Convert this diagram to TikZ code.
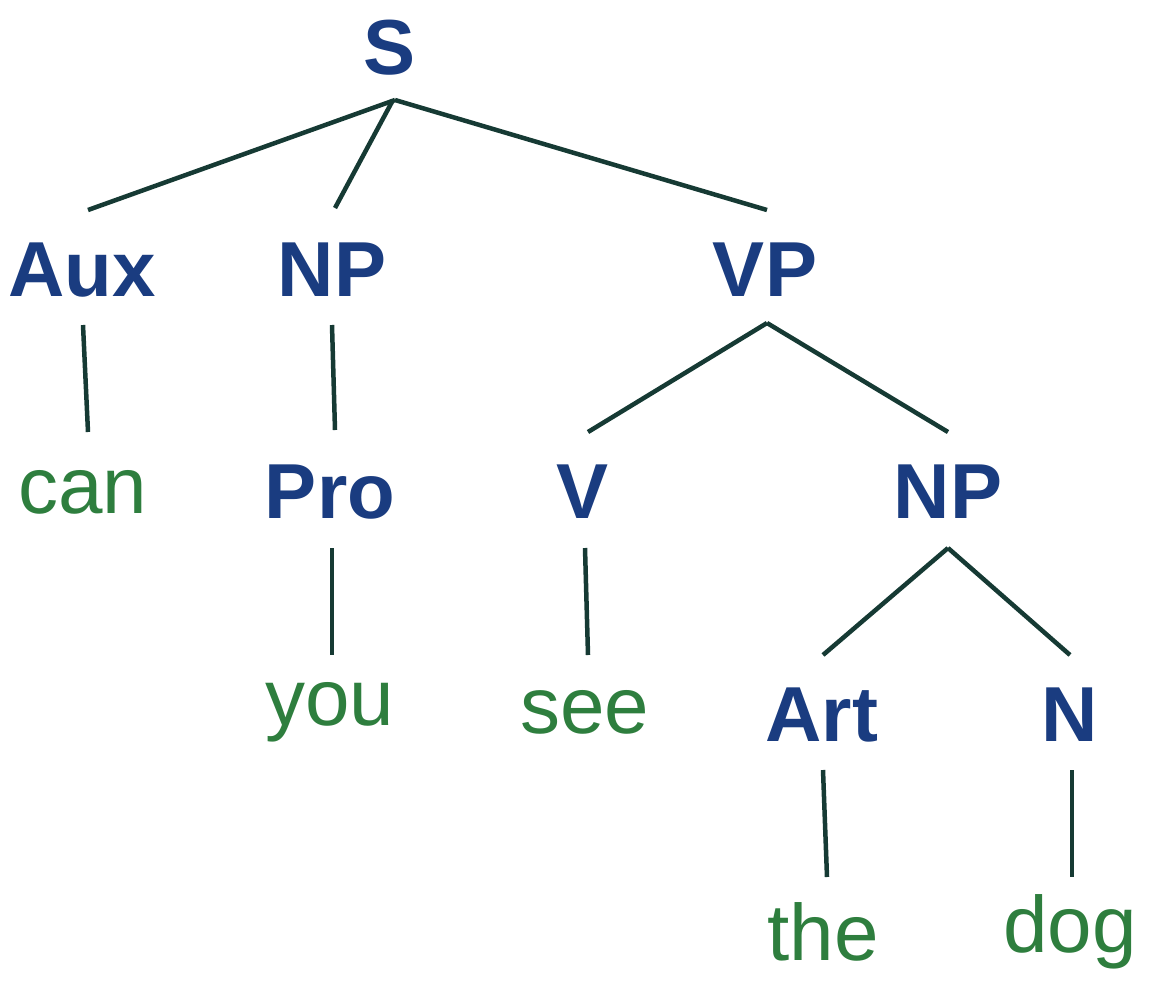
\documentclass[tikz,border=0pt]{standalone}
\usepackage{fontspec}
\setmainfont{Liberation Sans}
\usetikzlibrary{calc}
\definecolor{cat}{RGB}{26,60,128}
\definecolor{wrd}{RGB}{46,126,62}
\definecolor{edge}{RGB}{22,58,52}
\begin{document}
\begin{tikzpicture}[x=1pt,y=-1pt,
  c/.style={font=\fontsize{78}{80}\selectfont\bfseries,text=cat,inner sep=0},
  w/.style={font=\fontsize{80}{82}\selectfont,text=wrd,inner sep=0},
  e/.style={draw=edge,line width=4.5pt}]
\useasboundingbox (0,0) rectangle (1154,1002);
\node[c] (S) at (390,48) {S};
\node[c] (Aux) at (82,270) {Aux};
\node[c] (NP) at (332,270) {NP};
\node[c] (VP) at (765,270) {VP};
\node[w] (can) at (83,492) {can};
\node[c] (Pro) at (330,492) {Pro};
\node[c] (V) at (583,492) {V};
\node[c] (NPb) at (948,492) {NP};
\node[w] (you) at (330,712) {you};
\node[w] (see) at (585,712) {see};
\node[c] (Art) at (822,715) {Art};
\node[c] (N) at (1070,715) {N};
\node[w] (the) at (823,932) {the};
\node[w] (dog) at (1070,932) {dog};
\draw[e] ($(S)+(5,52)$) -- ($(Aux)+(6,-60)$);
\draw[e] ($(S)+(3,52)$) -- ($(NP)+(3,-62)$);
\draw[e] ($(S)+(5,52)$) -- ($(VP)+(2,-60)$);
\draw[e] ($(Aux)+(1,55)$) -- ($(can)+(5,-60)$);
\draw[e] ($(NP)+(0,55)$) -- ($(Pro)+(5,-62)$);
\draw[e] ($(Pro)+(2,56)$) -- ($(you)+(2,-57)$);
\draw[e] ($(VP)+(2,53)$) -- ($(V)+(5,-60)$);
\draw[e] ($(VP)+(2,53)$) -- ($(NPb)+(0,-60)$);
\draw[e] ($(V)+(2,56)$) -- ($(see)+(3,-57)$);
\draw[e] ($(NPb)+(0,56)$) -- ($(Art)+(1,-60)$);
\draw[e] ($(NPb)+(0,56)$) -- ($(N)+(0,-60)$);
\draw[e] ($(Art)+(1,55)$) -- ($(the)+(4,-55)$);
\draw[e] ($(N)+(2,55)$) -- ($(dog)+(2,-55)$);
\end{tikzpicture}
\end{document}
